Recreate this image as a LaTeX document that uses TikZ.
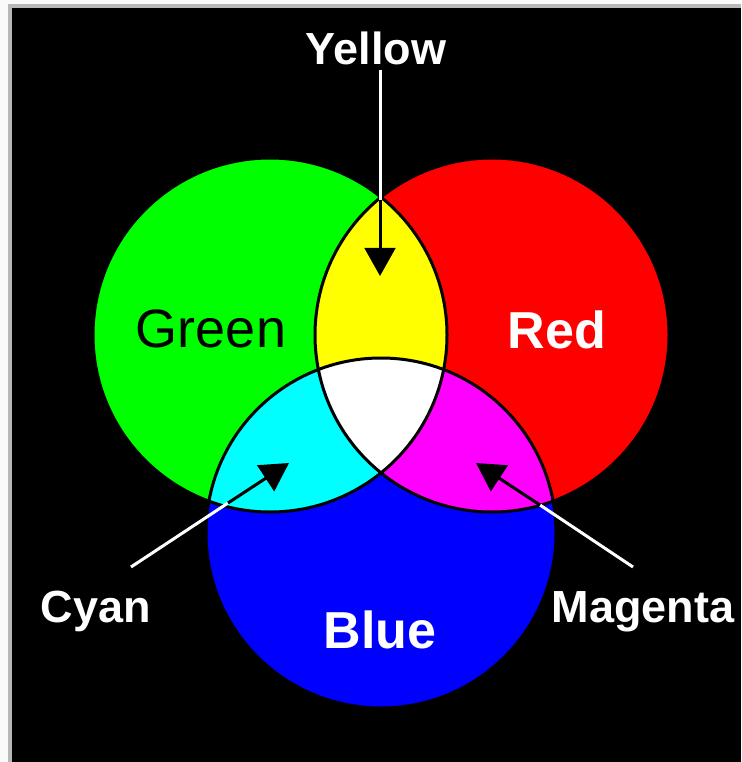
\documentclass[tikz,border=0pt]{standalone}
\usepackage{fontspec}
\setmainfont{Liberation Sans}
\usepackage{tikz}
\usetikzlibrary{arrows.meta}

\definecolor{lightgreen}{RGB}{0,255,0}
\definecolor{lightred}{RGB}{255,0,0}
\definecolor{lightblue}{RGB}{0,0,255}
\definecolor{mixyellow}{RGB}{255,255,0}
\definecolor{mixcyan}{RGB}{0,255,255}
\definecolor{mixmagenta}{RGB}{255,0,255}
\definecolor{framegray}{RGB}{184,184,184}
\definecolor{pagegray}{RGB}{250,250,250}

\begin{document}
\begin{tikzpicture}[x=0.75pt, y=-0.75pt,
        lbl/.style={text=white, font=\bfseries\fontsize{33.75}{36}\selectfont, inner sep=3pt, anchor=base},
        big/.style={font=\bfseries\fontsize{39}{42}\selectfont},
        rim/.style={draw=black, line width=2.25pt},
        ptr/.style={line width=2.25pt},
        ptrtip/.style={-{Triangle[length=21pt, width=23pt]}, line width=2.25pt}
    ]
        % frame
        \fill[pagegray] (0,0) rectangle (741,762);
        \fill[framegray] (8,4) rectangle (741,762);
        \fill[black] (12,8) rectangle (741,762);
        \useasboundingbox (0,0) rectangle (741,762);

        \coordinate (gc) at (270,335);
        \coordinate (rc) at (492,335);
        \coordinate (bc) at (381,533);

        % discs and their overlaps
        \fill[lightgreen] (gc) circle (177);
        \fill[lightred] (rc) circle (177);
        \fill[lightblue] (bc) circle (175);
        \begin{scope}
            \clip (gc) circle (177);
            \fill[mixyellow] (rc) circle (177);
            \fill[mixcyan] (bc) circle (175);
        \end{scope}
        \begin{scope}
            \clip (rc) circle (177);
            \fill[mixmagenta] (bc) circle (175);
            \clip (gc) circle (177);
            \fill[white] (bc) circle (175);
        \end{scope}
        \draw[rim] (gc) circle (177);
        \draw[rim] (rc) circle (177);
        \draw[rim] (bc) circle (175);

        % labels
        \node[lbl] (yellow) at (376,65) {Yellow};
        \node[lbl, text=black, font=\fontsize{40.5}{44}\selectfont] (green) at (211,347) {Green};
        \node[lbl, big] (red) at (557,348) {Red};
        \node[lbl, big] (blue) at (380,648) {Blue};
        \node[lbl] (cyanlbl) at (96,622) {Cyan};
        \node[lbl] (magentalbl) at (643,622) {Magenta};

        % pointers
        \coordinate (yedge) at (380,200);
        \coordinate (ytip) at (380,276);
        \coordinate (ctail) at (131,567);
        \coordinate (cedge) at (228,503);
        \coordinate (ctip) at (289,463);
        \coordinate (mtail) at (633,567);
        \coordinate (medge) at (540,505);
        \coordinate (mtip) at (476,463);

        \draw[ptr, white] (yellow.south -| yedge) -- (yedge);
        \draw[ptrtip] (yedge) -- (ytip);
        \draw[ptr, white] (ctail) -- (cedge);
        \draw[ptrtip] (cedge) -- (ctip);
        \draw[ptr, white] (mtail) -- (medge);
        \draw[ptrtip] (medge) -- (mtip);
\end{tikzpicture}
\end{document}
